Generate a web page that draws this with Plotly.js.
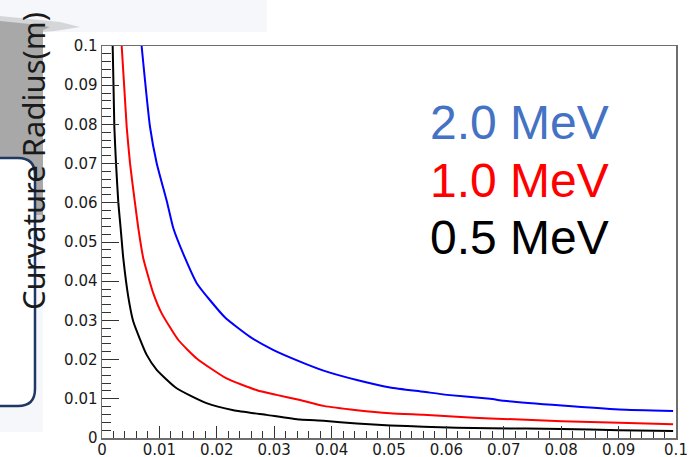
<!DOCTYPE html>
<html>
<head>
<meta charset="utf-8">
<script src="https://cdn.plot.ly/plotly-3.0.1.min.js"></script>
<style>html,body{margin:0;padding:0;background:#fff;}#chart{width:690px;height:457px;}</style>
</head>
<body>
<div id="chart"></div>
<script>
// Magnetic field (x) and curvature radius in m (y)
const field20 = [0.0069, 0.00836, 0.00953, 0.01138, 0.01243, 0.0145, 0.0165, 0.0214, 0.0258, 0.0298, 0.0345, 0.0386, 0.0444, 0.0502, 0.0560, 0.0601, 0.0676, 0.0700, 0.0801, 0.0901, 0.0995];
const radius20 = [0.1000, 0.0794, 0.0701, 0.0599, 0.0535, 0.0458, 0.0395, 0.0308, 0.0258, 0.0225, 0.0195, 0.0172, 0.0148, 0.0129, 0.0118, 0.0110, 0.0100, 0.0095, 0.0083, 0.0073, 0.0069];

const field10 = [0.00343, 0.0043, 0.00488, 0.00575, 0.00633, 0.0072, 0.00894, 0.0104, 0.0133, 0.0165, 0.0217, 0.0270, 0.0304, 0.0345, 0.0386, 0.0444, 0.0502, 0.0560, 0.0618, 0.0676, 0.0801, 0.0901, 0.0995];
const radius10 = [0.1000, 0.0794, 0.0701, 0.0599, 0.0535, 0.0458, 0.0369, 0.0318, 0.0250, 0.0203, 0.0152, 0.0122, 0.0110, 0.0097, 0.0082, 0.0071, 0.0063, 0.0059, 0.0054, 0.0050, 0.0043, 0.0039, 0.0035];

const field05 = [0.00186, 0.00215, 0.00244, 0.00285, 0.00325, 0.00371, 0.00458, 0.00545, 0.00779, 0.00953, 0.0130, 0.0182, 0.0229, 0.0287, 0.0345, 0.0386, 0.0444, 0.0502, 0.0560, 0.0618, 0.0676, 0.0801, 0.0901, 0.0995];
const radius05 = [0.1000, 0.0794, 0.0701, 0.0599, 0.0535, 0.0458, 0.0360, 0.0297, 0.0212, 0.0174, 0.0127, 0.0089, 0.0071, 0.0059, 0.0047, 0.0044, 0.0037, 0.0032, 0.0029, 0.0026, 0.0025, 0.0023, 0.0020, 0.0018];

const seriesLabels = ["2.0 MeV", "1.0 MeV", "0.5 MeV"];
const axisTicks = [0, 0.01, 0.02, 0.03, 0.04, 0.05, 0.06, 0.07, 0.08, 0.09, 0.1];
const axisTickText = ["0", "0.01", "0.02", "0.03", "0.04", "0.05", "0.06", "0.07", "0.08", "0.09", "0.1"];
const yTitle = "Curvature Radius(m)";

// layout geometry (pixels)
const W = 690, H = 457, L = 102, R = 14, T = 46, B = 19;
const pw = W - L - R, ph = H - T - B;
const px = v => (v - L) / pw;
const py = v => (H - B - v) / ph;
function path(points) {
  return points.map((p, i) => (i ? 'L' : 'M') + px(p[0]).toFixed(5) + ',' + py(p[1]).toFixed(5)).join(' ') + ' Z';
}

const traces = [
  {x: field20, y: radius20, name: seriesLabels[0], mode: 'lines', line: {color: '#0000ff', width: 2, shape: 'spline', smoothing: 0.5}},
  {x: field10, y: radius10, name: seriesLabels[1], mode: 'lines', line: {color: '#ff0000', width: 2, shape: 'spline', smoothing: 0.5}},
  {x: field05, y: radius05, name: seriesLabels[2], mode: 'lines', line: {color: '#000000', width: 2, shape: 'spline', smoothing: 0.5}}
];

const tickFont = {family: 'DejaVu Sans, Liberation Sans, sans-serif', size: 15, color: '#1a1a1a'};
const axisCommon = {
  range: [0, 0.1], tickmode: 'array', tickvals: axisTicks, ticktext: axisTickText,
  ticks: 'inside', tickcolor: '#333', tickwidth: 1,
  showline: true, linecolor: '#6e6e6e', linewidth: 1.5, mirror: true,
  showgrid: false, zeroline: false, tickfont: tickFont, fixedrange: true
};

// rounded box (decoration at the left edge)
const rr = 17, bx = 35, bt = 158, bb = 406;
const roundPath = 'M' + px(-5) + ',' + py(bt) + ' L' + px(bx - rr) + ',' + py(bt) +
  ' Q' + px(bx) + ',' + py(bt) + ' ' + px(bx) + ',' + py(bt + rr) +
  ' L' + px(bx) + ',' + py(bb - rr) +
  ' Q' + px(bx) + ',' + py(bb) + ' ' + px(bx - rr) + ',' + py(bb) +
  ' L' + px(-5) + ',' + py(bb) + ' Z';

const shapes = [
  {type: 'path', xref: 'paper', yref: 'paper', layer: 'above', path: path([[0,0],[267,0],[267,32],[0,32]]), fillcolor: '#f6f7fb', line: {width: 0}},
  {type: 'path', xref: 'paper', yref: 'paper', layer: 'above', path: path([[0,32],[43,32],[43,432],[0,432]]), fillcolor: '#f6f7fb', line: {width: 0}},
  {type: 'path', xref: 'paper', yref: 'paper', layer: 'above', path: path([[0,16],[30,19],[60,22],[80,27],[55,31],[43,32],[43,222],[0,222]]), fillcolor: 'rgba(165,165,165,0.4)', line: {width: 0}},
  {type: 'path', xref: 'paper', yref: 'paper', layer: 'above', path: path([[0,21],[30,24],[50,27],[43,30],[43,215],[0,215]]), fillcolor: '#a8a8a8', line: {width: 0}},
  {type: 'path', xref: 'paper', yref: 'paper', layer: 'above', path: roundPath, fillcolor: '#ffffff', line: {color: '#1f3864', width: 2.5}}
];

const annFont = 'Liberation Sans, Arial, sans-serif';
const annotations = [
  {xref: 'paper', yref: 'paper', x: px(33), y: py(161), text: yTitle, textangle: -90, showarrow: false,
   xanchor: 'center', yanchor: 'middle', font: {family: 'Noto Sans, DejaVu Sans, sans-serif', size: 31, color: '#1a1a1a'}},
  {xref: 'paper', yref: 'paper', x: px(428), y: py(122), text: seriesLabels[0], showarrow: false,
   xanchor: 'left', yanchor: 'middle', font: {family: annFont, size: 48, color: '#4472c4'}},
  {xref: 'paper', yref: 'paper', x: px(428), y: py(180), text: seriesLabels[1], showarrow: false,
   xanchor: 'left', yanchor: 'middle', font: {family: annFont, size: 48, color: '#ff0000'}},
  {xref: 'paper', yref: 'paper', x: px(428), y: py(237), text: seriesLabels[2], showarrow: false,
   xanchor: 'left', yanchor: 'middle', font: {family: annFont, size: 48, color: '#000000'}}
];

const layout = {
  width: W, height: H,
  margin: {l: L, r: R, t: T, b: B, pad: 0},
  paper_bgcolor: '#ffffff', plot_bgcolor: '#ffffff',
  showlegend: false,
  xaxis: Object.assign({}, axisCommon, {ticklen: 12, ticklabelstandoff: -3, minor: {dtick: 0.002, tick0: 0, ticks: 'inside', ticklen: 7, tickcolor: '#333', tickwidth: 1, showgrid: false}}),
  yaxis: Object.assign({}, axisCommon, {ticklen: 17, minor: {dtick: 0.002, tick0: 0, ticks: 'inside', ticklen: 9, tickcolor: '#333', tickwidth: 1, showgrid: false}}),
  shapes: shapes,
  annotations: annotations
};

Plotly.newPlot('chart', traces, layout, {staticPlot: true, displayModeBar: false});
</script>
</body>
</html>
